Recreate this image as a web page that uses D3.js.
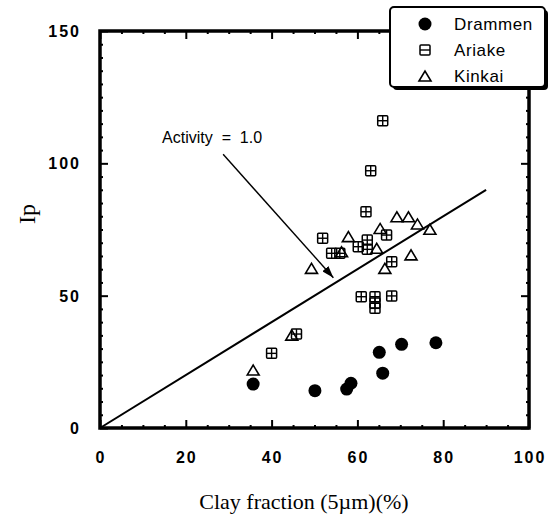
<!DOCTYPE html>
<html>
<head>
<meta charset="utf-8">
<script src="https://cdn.jsdelivr.net/npm/d3@7"></script>
<style>
  html, body { margin: 0; padding: 0; background: #fff; }
  svg { display: block; }
</style>
</head>
<body>
<svg id="chart" width="558" height="520"></svg>
<script>
// Clay fraction (%) vs plasticity index Ip
const drammenClay = [35.7, 50.1, 57.5, 58.5, 65.1, 65.9, 70.3, 78.3];
const drammenIp   = [16.6, 14.1, 14.7, 16.9, 28.6, 20.7, 31.6, 32.2];

const ariakeClay = [40.0, 45.8, 51.9, 54.0, 55.9, 60.2, 62.3, 62.3, 62.0, 63.1, 65.9, 66.8, 68.0, 60.9, 64.1, 64.1, 64.1, 68.0];
const ariakeIp   = [28.2, 35.5, 71.7, 66.0, 66.0, 68.5, 71.0, 67.5, 81.7, 97.2, 116.1, 72.9, 62.8, 49.6, 49.6, 47.2, 45.2, 49.9];

const kinkaiClay = [35.7, 44.7, 49.3, 56.3, 57.9, 64.5, 65.3, 66.4, 69.2, 71.9, 72.5, 74.0, 76.9];
const kinkaiIp   = [21.9, 35.1, 60.3, 66.6, 72.3, 67.9, 75.4, 60.3, 79.8, 79.8, 65.4, 77.1, 75.1];

// Activity = 1.0 reference line (Ip = clay fraction)
const activityLine = [[0, 0], [90, 90]];
const activityLabel = "Activity  =  1.0";
const activityArrow = [[28.7, 103.4], [54.4, 56.8]];

const xTickLabels = [0, 20, 40, 60, 80, 100];
const yTickLabels = [0, 50, 100, 150];
const seriesNames = ["Drammen", "Ariake", "Kinkai"];

const svg = d3.select("#chart");
const x = d3.scaleLinear().domain([0, 100]).range([100, 529]);
const y = d3.scaleLinear().domain([0, 150]).range([428, 31]);

const tickFont = "'Liberation Sans', Arial, sans-serif";

// inward ticks on all four sides
function ticks(axisGen, transform, vals, size) {
  svg.append("g").attr("transform", transform)
    .call(axisGen.tickValues(vals).tickSize(-size).tickFormat(""))
    .call(g => g.select(".domain").remove())
    .call(g => g.selectAll("line").attr("stroke", "#000").attr("stroke-width", 2));
}
const xMinor = d3.range(0, 101, 5).filter(v => v % 20 !== 0);
const yMinor = d3.range(0, 151, 5).filter(v => v % 50 !== 0);
ticks(d3.axisBottom(x), `translate(0,${y(0)})`, xMinor, 3);
ticks(d3.axisBottom(x), `translate(0,${y(0)})`, xTickLabels, 8);
ticks(d3.axisTop(x), `translate(0,${y(150)})`, xMinor, 3);
ticks(d3.axisTop(x), `translate(0,${y(150)})`, xTickLabels, 8);
ticks(d3.axisLeft(y), `translate(${x(0)},0)`, yMinor, 3);
ticks(d3.axisLeft(y), `translate(${x(0)},0)`, yTickLabels, 8);
ticks(d3.axisRight(y), `translate(${x(100)},0)`, yMinor, 3);
ticks(d3.axisRight(y), `translate(${x(100)},0)`, yTickLabels, 8);

// frame
svg.append("rect")
  .attr("x", x(0)).attr("y", y(150))
  .attr("width", x(100) - x(0)).attr("height", y(0) - y(150))
  .attr("fill", "none").attr("stroke", "#000").attr("stroke-width", 3.5);

// tick labels
svg.append("g").selectAll("text").data(xTickLabels).join("text")
  .attr("x", d => x(d) + 1).attr("y", 463)
  .attr("text-anchor", "middle")
  .attr("font-family", tickFont).attr("font-weight", "bold")
  .attr("font-size", 16).attr("letter-spacing", 2)
  .text(d => d);
svg.append("g").selectAll("text").data(yTickLabels).join("text")
  .attr("x", 81).attr("y", d => y(d) + 6)
  .attr("text-anchor", "end")
  .attr("font-family", tickFont).attr("font-weight", "bold")
  .attr("font-size", 16).attr("letter-spacing", 2)
  .text(d => d);

// axis titles
svg.append("text")
  .attr("x", 304).attr("y", 509)
  .attr("text-anchor", "middle")
  .attr("font-family", "'Liberation Serif', 'Times New Roman', serif")
  .attr("font-size", 22)
  .text("Clay fraction (5\u00B5m)(%)");
svg.append("text")
  .attr("transform", "translate(35,214) rotate(-90)")
  .attr("text-anchor", "middle")
  .attr("font-family", "'Liberation Serif', 'Times New Roman', serif")
  .attr("font-size", 24)
  .text("Ip");

// activity line
const line = d3.line().x(d => x(d[0])).y(d => y(d[1]));
svg.append("path").datum(activityLine)
  .attr("d", line).attr("fill", "none")
  .attr("stroke", "#000").attr("stroke-width", 2);

// annotation arrow
svg.append("defs").append("marker")
  .attr("id", "arrowhead").attr("viewBox", "0 0 12 8")
  .attr("refX", 12).attr("refY", 4)
  .attr("markerWidth", 12).attr("markerHeight", 8)
  .attr("markerUnits", "userSpaceOnUse").attr("orient", "auto")
  .append("path").attr("d", "M0,0 L12,4 L0,8 Z").attr("fill", "#000");
svg.append("path").datum(activityArrow)
  .attr("d", line).attr("fill", "none")
  .attr("stroke", "#000").attr("stroke-width", 1.4)
  .attr("marker-end", "url(#arrowhead)");
svg.append("text")
  .attr("x", x(activityArrow[0][0]) + 39).attr("y", y(activityArrow[0][1]) - 11)
  .attr("text-anchor", "end")
  .attr("font-family", "'Liberation Sans', Arial, sans-serif")
  .attr("font-size", 16)
  .style("white-space", "pre")
  .text(activityLabel);

// marker shapes
function squareMark(g, cx, cy, withVertical) {
  const s = 5;
  g.append("rect").attr("x", cx - s).attr("y", cy - s)
    .attr("width", 2 * s).attr("height", 2 * s).attr("rx", 1)
    .attr("fill", "none").attr("stroke", "#000").attr("stroke-width", 1.5);
  g.append("line").attr("x1", cx - s).attr("x2", cx + s)
    .attr("y1", cy).attr("y2", cy).attr("stroke", "#000").attr("stroke-width", 1.4);
  if (withVertical) {
    g.append("line").attr("x1", cx).attr("x2", cx)
      .attr("y1", cy - s).attr("y2", cy + s).attr("stroke", "#000").attr("stroke-width", 1.4);
  }
}
function triangleMark(g, cx, cy) {
  const w = 6, h = 10;
  g.append("path")
    .attr("d", `M${cx - w},${cy + h / 2} L${cx},${cy - h / 2} L${cx + w},${cy + h / 2} Z`)
    .attr("fill", "none").attr("stroke", "#000").attr("stroke-width", 1.6)
    .attr("stroke-linejoin", "miter");
}

// Drammen
svg.append("g").selectAll("circle").data(d3.zip(drammenClay, drammenIp)).join("circle")
  .attr("cx", d => x(d[0])).attr("cy", d => y(d[1])).attr("r", 6.5).attr("fill", "#000");

// Ariake
const gA = svg.append("g");
d3.zip(ariakeClay, ariakeIp).forEach(d => squareMark(gA, x(d[0]), y(d[1]), true));

// Kinkai
const gK = svg.append("g");
d3.zip(kinkaiClay, kinkaiIp).forEach(d => triangleMark(gK, x(d[0]), y(d[1])));

// legend
const lg = svg.append("g");
lg.append("rect").attr("x", 393).attr("y", 10).attr("width", 155).attr("height", 80)
  .attr("rx", 4).attr("fill", "#000");
lg.append("rect").attr("x", 390).attr("y", 7).attr("width", 155).attr("height", 80)
  .attr("rx", 4).attr("fill", "#fff").attr("stroke", "#000").attr("stroke-width", 2);
const rowY = [24, 50, 76];
lg.append("circle").attr("cx", 425).attr("cy", rowY[0]).attr("r", 6.5).attr("fill", "#000");
squareMark(lg, 425, rowY[1], false);
triangleMark(lg, 425, rowY[2]);
lg.selectAll("text").data(seriesNames).join("text")
  .attr("x", 454).attr("y", (d, i) => rowY[i] + 6)
  .attr("font-family", "'Liberation Sans', Arial, sans-serif")
  .attr("font-size", 17).attr("letter-spacing", 0.6)
  .text(d => d);
</script>
</body>
</html>
